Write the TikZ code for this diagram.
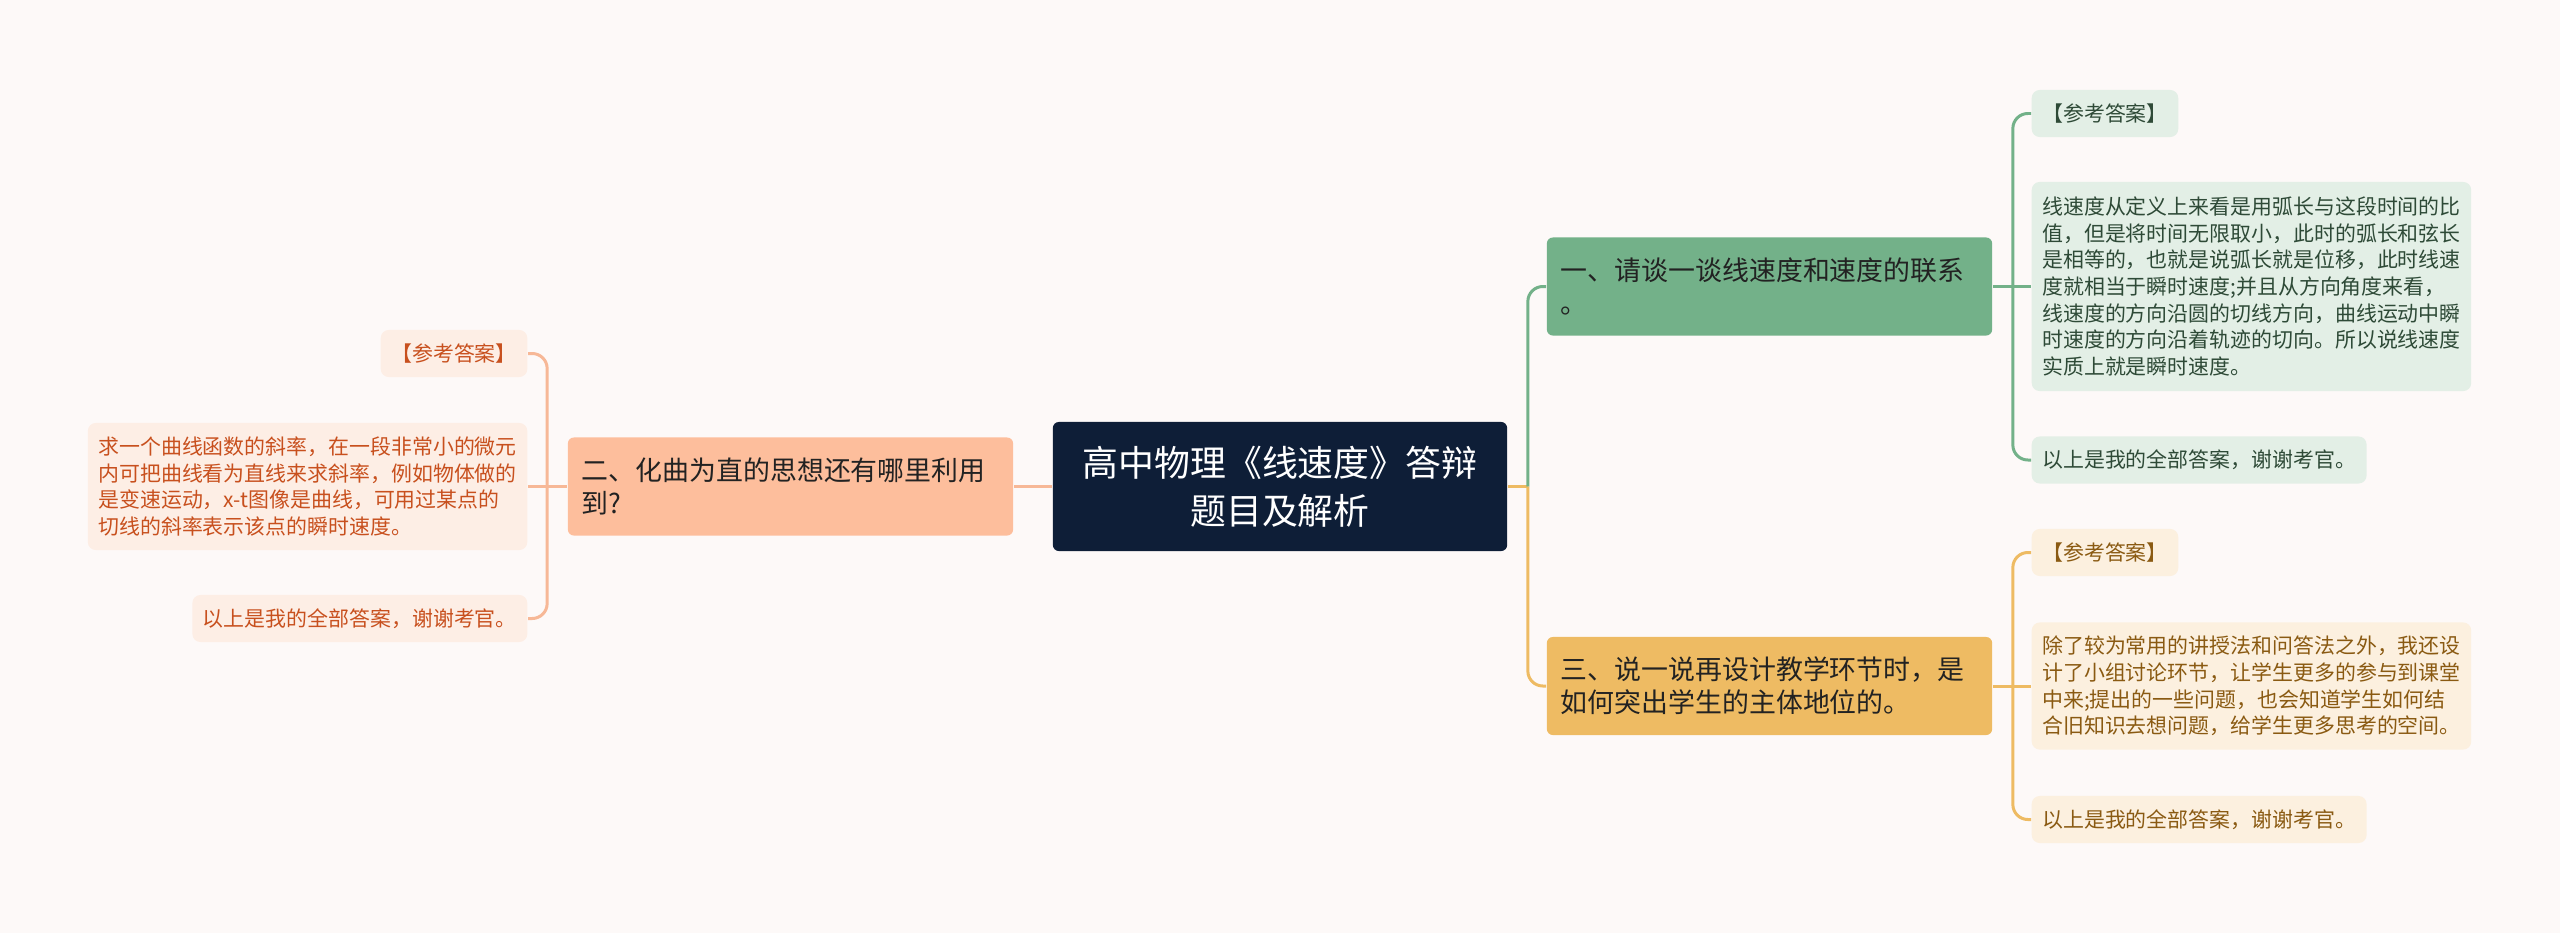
\documentclass[tikz,border=0pt]{standalone}
\usepackage{fontspec}
\setmainfont{Noto Sans CJK SC}
\usetikzlibrary{positioning}

\definecolor{pageBg}{HTML}{FDF9F8}
\definecolor{rootNavy}{HTML}{0E1E37}
\definecolor{greenMain}{HTML}{73B189}
\definecolor{greenLeaf}{HTML}{E3EFE6}
\definecolor{greenText}{HTML}{2E4A37}
\definecolor{goldMain}{HTML}{EEBB63}
\definecolor{goldLeaf}{HTML}{FCF0DF}
\definecolor{goldText}{HTML}{8A5A12}
\definecolor{peachMain}{HTML}{FDBE9C}
\definecolor{peachLine}{HTML}{F7B897}
\definecolor{peachLeaf}{HTML}{FDEEE5}
\definecolor{peachText}{HTML}{C8501E}
\definecolor{topicText}{HTML}{222222}

\begin{document}
\begin{tikzpicture}[
        x=0.01cm, y=-0.01cm,
        rootBox/.style={
            rectangle, rounded corners=0.06cm, fill=rootNavy, text=white,
            align=center, minimum width=4.54cm, minimum height=1.29cm,
            font=\fontsize{10.2pt}{13.7pt}\selectfont
        },
        topicBox/.style={
            rectangle, rounded corners=0.06cm, text=topicText,
            text width=4.17cm, inner xsep=0.14cm, align=left, minimum height=0.98cm,
            font=\fontsize{7.65pt}{9.4pt}\selectfont
        },
        leafBox/.style={
            rectangle, rounded corners=0.08cm, inner xsep=0.105cm, inner ysep=0.1cm,
            align=left, minimum height=0.47cm,
            font=\fontsize{5.95pt}{7.6pt}\selectfont
        },
        greenLeafBox/.style={leafBox, fill=greenLeaf, text=greenText},
        goldLeafBox/.style={leafBox, fill=goldLeaf, text=goldText},
        peachLeafBox/.style={leafBox, fill=peachLeaf, text=peachText},
        link/.style={line width=0.85pt, rounded corners=0.15cm}
    ]
        % Background
        \fill[pageBg] (0,0) rectangle (2560,933);

        % Nodes
        \node (root) [rootBox] at (1280,486.5) {高中物理《线速度》答辩\\题目及解析};
        \node (two) [topicBox, fill=peachMain] at (790.5,486.5) {二、化曲为直的思想还有哪里利用\\到?};
        \node (one) [topicBox, fill=greenMain] at (1769.5,286.5) {一、请谈一谈线速度和速度的联系\\。};
        \node (three) [topicBox, fill=goldMain] at (1769.5,686) {三、说一说再设计教学环节时，是\\如何突出学生的主体地位的。};

        \node (oneRef) [greenLeafBox, anchor=west] at (2031,113.5) {【参考答案】};
        \node (oneAns) [greenLeafBox, anchor=west, minimum height=2.09cm] at (2031,286.5) {线速度从定义上来看是用弧长与这段时间的比\\值，但是将时间无限取小，此时的弧长和弦长\\是相等的，也就是说弧长就是位移，此时线速\\度就相当于瞬时速度;并且从方向角度来看，\\线速度的方向沿圆的切线方向，曲线运动中瞬\\时速度的方向沿着轨迹的切向。所以说线速度\\实质上就是瞬时速度。};
        \node (oneEnd) [greenLeafBox, anchor=west] at (2031,460) {以上是我的全部答案，谢谢考官。};

        \node (threeRef) [goldLeafBox, anchor=west] at (2031,552.5) {【参考答案】};
        \node (threeAns) [goldLeafBox, anchor=west, minimum height=1.27cm] at (2031,686) {除了较为常用的讲授法和问答法之外，我还设\\计了小组讨论环节，让学生更多的参与到课堂\\中来;提出的一些问题，也会知道学生如何结\\合旧知识去想问题，给学生更多思考的空间。};
        \node (threeEnd) [goldLeafBox, anchor=west] at (2031,819.5) {以上是我的全部答案，谢谢考官。};

        \node (twoRef) [peachLeafBox, anchor=east] at (528,353.5) {【参考答案】};
        \node (twoAns) [peachLeafBox, anchor=east, minimum height=1.27cm] at (528,486.5) {求一个曲线函数的斜率，在一段非常小的微元\\内可把曲线看为直线来求斜率，例如物体做的\\是变速运动，x-t图像是曲线，可用过某点的\\切线的斜率表示该点的瞬时速度。};
        \node (twoEnd) [peachLeafBox, anchor=east] at (528,618.5) {以上是我的全部答案，谢谢考官。};

        % Junctions
        \coordinate [right=0.2cm of root.east] (rootJ);
        \coordinate [right=0.2cm of one.east] (oneJ);
        \coordinate [right=0.2cm of three.east] (threeJ);
        \coordinate [left=0.2cm of two.west] (twoJ);

        % Links
        \draw [link, peachLine] (root.west) -- (two.east);
        \draw [link, goldMain] (root.east) -- (rootJ);
        \draw [link, greenMain] (rootJ) |- (one.west);
        \draw [link, goldMain] (rootJ) |- (three.west);

        \draw [link, greenMain] (one.east) -- (oneAns.west);
        \draw [link, greenMain] (oneRef.west) -| (oneJ) |- (oneEnd.west);
        \draw [link, goldMain] (three.east) -- (threeAns.west);
        \draw [link, goldMain] (threeRef.west) -| (threeJ) |- (threeEnd.west);
        \draw [link, peachLine] (two.west) -- (twoAns.east);
        \draw [link, peachLine] (twoRef.east) -| (twoJ) |- (twoEnd.east);
\end{tikzpicture}
\end{document}
